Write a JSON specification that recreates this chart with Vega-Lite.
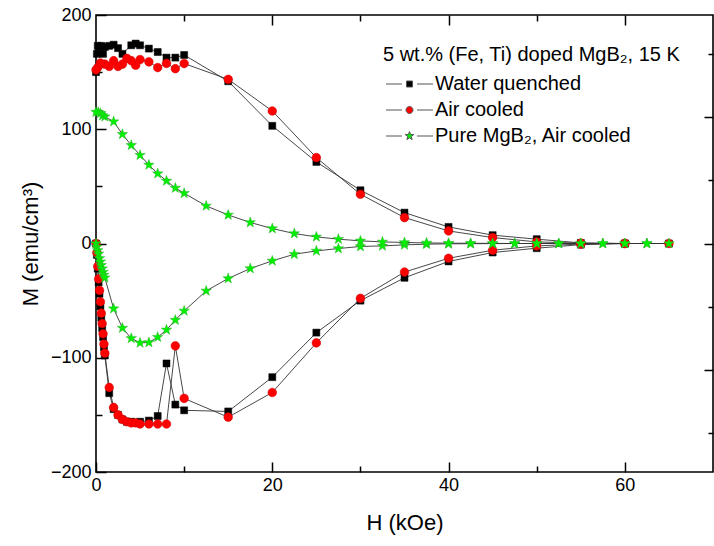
{
  "$schema": "https://vega.github.io/schema/vega-lite/v6.json",
  "width": 617,
  "height": 457,
  "autosize": "none",
  "padding": {"left": 96, "top": 15, "right": 1, "bottom": 74},
  "config": {
    "view": {"stroke": "black", "strokeWidth": 1.6},
    "font": "Liberation Sans",
    "axis": {
      "domain": false, "grid": false, "tickColor": "black", "tickWidth": 1.5,
      "labelFont": "Liberation Sans", "labelFontSize": 18, "labelColor": "black",
      "titleFont": "Liberation Sans", "titleFontSize": 22, "titleFontWeight": "normal", "titleColor": "black",
      "labelFlush": false, "labelOverlap": false
    }
  },
  "datasets": {
    "mh": [
      {"series": "Water quenched", "seq": 1, "H": 0, "M": 0},
      {"series": "Water quenched", "seq": 2, "H": 0.1, "M": -10},
      {"series": "Water quenched", "seq": 3, "H": 0.2, "M": -22},
      {"series": "Water quenched", "seq": 4, "H": 0.3, "M": -34},
      {"series": "Water quenched", "seq": 5, "H": 0.4, "M": -44},
      {"series": "Water quenched", "seq": 6, "H": 0.5, "M": -55},
      {"series": "Water quenched", "seq": 7, "H": 0.6, "M": -65},
      {"series": "Water quenched", "seq": 8, "H": 0.7, "M": -74},
      {"series": "Water quenched", "seq": 9, "H": 0.8, "M": -82},
      {"series": "Water quenched", "seq": 10, "H": 0.9, "M": -91},
      {"series": "Water quenched", "seq": 11, "H": 1.0, "M": -98},
      {"series": "Water quenched", "seq": 12, "H": 1.5, "M": -131},
      {"series": "Water quenched", "seq": 13, "H": 2, "M": -145},
      {"series": "Water quenched", "seq": 14, "H": 2.5, "M": -150},
      {"series": "Water quenched", "seq": 15, "H": 3, "M": -154},
      {"series": "Water quenched", "seq": 16, "H": 3.5, "M": -156},
      {"series": "Water quenched", "seq": 17, "H": 4, "M": -156},
      {"series": "Water quenched", "seq": 18, "H": 4.5, "M": -157},
      {"series": "Water quenched", "seq": 19, "H": 5, "M": -156},
      {"series": "Water quenched", "seq": 20, "H": 6, "M": -155},
      {"series": "Water quenched", "seq": 21, "H": 7, "M": -151},
      {"series": "Water quenched", "seq": 22, "H": 8, "M": -105},
      {"series": "Water quenched", "seq": 23, "H": 9, "M": -141},
      {"series": "Water quenched", "seq": 24, "H": 10, "M": -146},
      {"series": "Water quenched", "seq": 25, "H": 15, "M": -147},
      {"series": "Water quenched", "seq": 26, "H": 20, "M": -117},
      {"series": "Water quenched", "seq": 27, "H": 25, "M": -78},
      {"series": "Water quenched", "seq": 28, "H": 30, "M": -50},
      {"series": "Water quenched", "seq": 29, "H": 35, "M": -30},
      {"series": "Water quenched", "seq": 30, "H": 40, "M": -15.7},
      {"series": "Water quenched", "seq": 31, "H": 45, "M": -7.9},
      {"series": "Water quenched", "seq": 32, "H": 50, "M": -4.1},
      {"series": "Water quenched", "seq": 33, "H": 55, "M": -1},
      {"series": "Water quenched", "seq": 34, "H": 60, "M": 0},
      {"series": "Water quenched", "seq": 35, "H": 65, "M": 0},
      {"series": "Water quenched", "seq": 36, "H": 60, "M": 0},
      {"series": "Water quenched", "seq": 37, "H": 55, "M": 0.5},
      {"series": "Water quenched", "seq": 38, "H": 50, "M": 3.8},
      {"series": "Water quenched", "seq": 39, "H": 45, "M": 7.3},
      {"series": "Water quenched", "seq": 40, "H": 40, "M": 14.5},
      {"series": "Water quenched", "seq": 41, "H": 35, "M": 27},
      {"series": "Water quenched", "seq": 42, "H": 30, "M": 46.6},
      {"series": "Water quenched", "seq": 43, "H": 25, "M": 71.4},
      {"series": "Water quenched", "seq": 44, "H": 20, "M": 103},
      {"series": "Water quenched", "seq": 45, "H": 15, "M": 142},
      {"series": "Water quenched", "seq": 46, "H": 10, "M": 165},
      {"series": "Water quenched", "seq": 47, "H": 9, "M": 162.7},
      {"series": "Water quenched", "seq": 48, "H": 8, "M": 162.7},
      {"series": "Water quenched", "seq": 49, "H": 7, "M": 167.6},
      {"series": "Water quenched", "seq": 50, "H": 6, "M": 170.6},
      {"series": "Water quenched", "seq": 51, "H": 5, "M": 173.5},
      {"series": "Water quenched", "seq": 52, "H": 4.5, "M": 175},
      {"series": "Water quenched", "seq": 53, "H": 4, "M": 173.5},
      {"series": "Water quenched", "seq": 54, "H": 3, "M": 166},
      {"series": "Water quenched", "seq": 55, "H": 2.5, "M": 171},
      {"series": "Water quenched", "seq": 56, "H": 2, "M": 174},
      {"series": "Water quenched", "seq": 57, "H": 1.5, "M": 173},
      {"series": "Water quenched", "seq": 58, "H": 1, "M": 172},
      {"series": "Water quenched", "seq": 59, "H": 0.8, "M": 166},
      {"series": "Water quenched", "seq": 60, "H": 0.6, "M": 173},
      {"series": "Water quenched", "seq": 61, "H": 0.4, "M": 172},
      {"series": "Water quenched", "seq": 62, "H": 0.2, "M": 173},
      {"series": "Water quenched", "seq": 63, "H": 0.1, "M": 166},
      {"series": "Water quenched", "seq": 64, "H": 0, "M": 150},

      {"series": "Air cooled", "seq": 1, "H": 0, "M": 0},
      {"series": "Air cooled", "seq": 2, "H": 0.1, "M": -8},
      {"series": "Air cooled", "seq": 3, "H": 0.2, "M": -20},
      {"series": "Air cooled", "seq": 4, "H": 0.3, "M": -31},
      {"series": "Air cooled", "seq": 5, "H": 0.4, "M": -41},
      {"series": "Air cooled", "seq": 6, "H": 0.5, "M": -51},
      {"series": "Air cooled", "seq": 7, "H": 0.6, "M": -61},
      {"series": "Air cooled", "seq": 8, "H": 0.7, "M": -70},
      {"series": "Air cooled", "seq": 9, "H": 0.8, "M": -79},
      {"series": "Air cooled", "seq": 10, "H": 0.9, "M": -88},
      {"series": "Air cooled", "seq": 11, "H": 1.0, "M": -96},
      {"series": "Air cooled", "seq": 12, "H": 1.5, "M": -126},
      {"series": "Air cooled", "seq": 13, "H": 2, "M": -143.5},
      {"series": "Air cooled", "seq": 14, "H": 2.5, "M": -150},
      {"series": "Air cooled", "seq": 15, "H": 3, "M": -154},
      {"series": "Air cooled", "seq": 16, "H": 3.5, "M": -156},
      {"series": "Air cooled", "seq": 17, "H": 4, "M": -157},
      {"series": "Air cooled", "seq": 18, "H": 4.5, "M": -157},
      {"series": "Air cooled", "seq": 19, "H": 5, "M": -158},
      {"series": "Air cooled", "seq": 20, "H": 6, "M": -158},
      {"series": "Air cooled", "seq": 21, "H": 7, "M": -158},
      {"series": "Air cooled", "seq": 22, "H": 8, "M": -158},
      {"series": "Air cooled", "seq": 23, "H": 9, "M": -89.6},
      {"series": "Air cooled", "seq": 24, "H": 10, "M": -135.6},
      {"series": "Air cooled", "seq": 25, "H": 15, "M": -152},
      {"series": "Air cooled", "seq": 26, "H": 20, "M": -130.4},
      {"series": "Air cooled", "seq": 27, "H": 25, "M": -87},
      {"series": "Air cooled", "seq": 28, "H": 30, "M": -48},
      {"series": "Air cooled", "seq": 29, "H": 35, "M": -25},
      {"series": "Air cooled", "seq": 30, "H": 40, "M": -12.9},
      {"series": "Air cooled", "seq": 31, "H": 45, "M": -5.9},
      {"series": "Air cooled", "seq": 32, "H": 50, "M": -2.1},
      {"series": "Air cooled", "seq": 33, "H": 55, "M": -0.5},
      {"series": "Air cooled", "seq": 34, "H": 60, "M": 0},
      {"series": "Air cooled", "seq": 35, "H": 65, "M": 0},
      {"series": "Air cooled", "seq": 36, "H": 60, "M": 0},
      {"series": "Air cooled", "seq": 37, "H": 55, "M": 0.3},
      {"series": "Air cooled", "seq": 38, "H": 50, "M": 1.4},
      {"series": "Air cooled", "seq": 39, "H": 45, "M": 5.2},
      {"series": "Air cooled", "seq": 40, "H": 40, "M": 11},
      {"series": "Air cooled", "seq": 41, "H": 35, "M": 22.7},
      {"series": "Air cooled", "seq": 42, "H": 30, "M": 43.1},
      {"series": "Air cooled", "seq": 43, "H": 25, "M": 75.2},
      {"series": "Air cooled", "seq": 44, "H": 20, "M": 116},
      {"series": "Air cooled", "seq": 45, "H": 15, "M": 143.7},
      {"series": "Air cooled", "seq": 46, "H": 10, "M": 157.5},
      {"series": "Air cooled", "seq": 47, "H": 9, "M": 153},
      {"series": "Air cooled", "seq": 48, "H": 8, "M": 157.7},
      {"series": "Air cooled", "seq": 49, "H": 7, "M": 154},
      {"series": "Air cooled", "seq": 50, "H": 6, "M": 159},
      {"series": "Air cooled", "seq": 51, "H": 5, "M": 161},
      {"series": "Air cooled", "seq": 52, "H": 4.5, "M": 156},
      {"series": "Air cooled", "seq": 53, "H": 4, "M": 160},
      {"series": "Air cooled", "seq": 54, "H": 3.5, "M": 162},
      {"series": "Air cooled", "seq": 55, "H": 3, "M": 157},
      {"series": "Air cooled", "seq": 56, "H": 2.5, "M": 155},
      {"series": "Air cooled", "seq": 57, "H": 2, "M": 160},
      {"series": "Air cooled", "seq": 58, "H": 1.5, "M": 155},
      {"series": "Air cooled", "seq": 59, "H": 1, "M": 157},
      {"series": "Air cooled", "seq": 60, "H": 0.5, "M": 158},
      {"series": "Air cooled", "seq": 61, "H": 0.2, "M": 154},
      {"series": "Air cooled", "seq": 62, "H": 0, "M": 152},

      {"series": "Pure MgB₂, Air cooled", "seq": 1, "H": 0, "M": 0},
      {"series": "Pure MgB₂, Air cooled", "seq": 2, "H": 0.1, "M": -3},
      {"series": "Pure MgB₂, Air cooled", "seq": 3, "H": 0.2, "M": -6},
      {"series": "Pure MgB₂, Air cooled", "seq": 4, "H": 0.3, "M": -9},
      {"series": "Pure MgB₂, Air cooled", "seq": 5, "H": 0.4, "M": -13},
      {"series": "Pure MgB₂, Air cooled", "seq": 6, "H": 0.5, "M": -16},
      {"series": "Pure MgB₂, Air cooled", "seq": 7, "H": 0.6, "M": -19},
      {"series": "Pure MgB₂, Air cooled", "seq": 8, "H": 0.7, "M": -22},
      {"series": "Pure MgB₂, Air cooled", "seq": 9, "H": 0.8, "M": -25},
      {"series": "Pure MgB₂, Air cooled", "seq": 10, "H": 0.9, "M": -27.5},
      {"series": "Pure MgB₂, Air cooled", "seq": 11, "H": 1.0, "M": -30},
      {"series": "Pure MgB₂, Air cooled", "seq": 12, "H": 2, "M": -57},
      {"series": "Pure MgB₂, Air cooled", "seq": 13, "H": 3, "M": -74},
      {"series": "Pure MgB₂, Air cooled", "seq": 14, "H": 4, "M": -83},
      {"series": "Pure MgB₂, Air cooled", "seq": 15, "H": 5, "M": -87},
      {"series": "Pure MgB₂, Air cooled", "seq": 16, "H": 6, "M": -86.6},
      {"series": "Pure MgB₂, Air cooled", "seq": 17, "H": 7, "M": -82},
      {"series": "Pure MgB₂, Air cooled", "seq": 18, "H": 8, "M": -75.6},
      {"series": "Pure MgB₂, Air cooled", "seq": 19, "H": 9, "M": -67},
      {"series": "Pure MgB₂, Air cooled", "seq": 20, "H": 10, "M": -59},
      {"series": "Pure MgB₂, Air cooled", "seq": 21, "H": 12.5, "M": -41.5},
      {"series": "Pure MgB₂, Air cooled", "seq": 22, "H": 15, "M": -30.6},
      {"series": "Pure MgB₂, Air cooled", "seq": 23, "H": 17.5, "M": -21.9},
      {"series": "Pure MgB₂, Air cooled", "seq": 24, "H": 20, "M": -15.2},
      {"series": "Pure MgB₂, Air cooled", "seq": 25, "H": 22.5, "M": -9.4},
      {"series": "Pure MgB₂, Air cooled", "seq": 26, "H": 25, "M": -6.5},
      {"series": "Pure MgB₂, Air cooled", "seq": 27, "H": 27.5, "M": -4.4},
      {"series": "Pure MgB₂, Air cooled", "seq": 28, "H": 30, "M": -2.6},
      {"series": "Pure MgB₂, Air cooled", "seq": 29, "H": 32.5, "M": -2.1},
      {"series": "Pure MgB₂, Air cooled", "seq": 30, "H": 35, "M": -1.2},
      {"series": "Pure MgB₂, Air cooled", "seq": 31, "H": 37.5, "M": -0.6},
      {"series": "Pure MgB₂, Air cooled", "seq": 32, "H": 40, "M": -0.3},
      {"series": "Pure MgB₂, Air cooled", "seq": 33, "H": 42.5, "M": -0.2},
      {"series": "Pure MgB₂, Air cooled", "seq": 34, "H": 45, "M": -0.1},
      {"series": "Pure MgB₂, Air cooled", "seq": 35, "H": 47.5, "M": 0},
      {"series": "Pure MgB₂, Air cooled", "seq": 36, "H": 50, "M": 0},
      {"series": "Pure MgB₂, Air cooled", "seq": 37, "H": 52.5, "M": 0},
      {"series": "Pure MgB₂, Air cooled", "seq": 38, "H": 55, "M": 0},
      {"series": "Pure MgB₂, Air cooled", "seq": 39, "H": 57.5, "M": 0},
      {"series": "Pure MgB₂, Air cooled", "seq": 40, "H": 60, "M": 0},
      {"series": "Pure MgB₂, Air cooled", "seq": 41, "H": 62.5, "M": 0},
      {"series": "Pure MgB₂, Air cooled", "seq": 42, "H": 65, "M": 0},
      {"series": "Pure MgB₂, Air cooled", "seq": 43, "H": 62.5, "M": 0},
      {"series": "Pure MgB₂, Air cooled", "seq": 44, "H": 60, "M": 0},
      {"series": "Pure MgB₂, Air cooled", "seq": 45, "H": 57.5, "M": 0},
      {"series": "Pure MgB₂, Air cooled", "seq": 46, "H": 55, "M": 0},
      {"series": "Pure MgB₂, Air cooled", "seq": 47, "H": 52.5, "M": 0},
      {"series": "Pure MgB₂, Air cooled", "seq": 48, "H": 50, "M": 0},
      {"series": "Pure MgB₂, Air cooled", "seq": 49, "H": 47.5, "M": 0},
      {"series": "Pure MgB₂, Air cooled", "seq": 50, "H": 45, "M": 0.1},
      {"series": "Pure MgB₂, Air cooled", "seq": 51, "H": 42.5, "M": 0.2},
      {"series": "Pure MgB₂, Air cooled", "seq": 52, "H": 40, "M": 0.3},
      {"series": "Pure MgB₂, Air cooled", "seq": 53, "H": 37.5, "M": 0.5},
      {"series": "Pure MgB₂, Air cooled", "seq": 54, "H": 35, "M": 0.9},
      {"series": "Pure MgB₂, Air cooled", "seq": 55, "H": 32.5, "M": 1.4},
      {"series": "Pure MgB₂, Air cooled", "seq": 56, "H": 30, "M": 2.3},
      {"series": "Pure MgB₂, Air cooled", "seq": 57, "H": 27.5, "M": 3.8},
      {"series": "Pure MgB₂, Air cooled", "seq": 58, "H": 25, "M": 5.8},
      {"series": "Pure MgB₂, Air cooled", "seq": 59, "H": 22.5, "M": 8.7},
      {"series": "Pure MgB₂, Air cooled", "seq": 60, "H": 20, "M": 13.1},
      {"series": "Pure MgB₂, Air cooled", "seq": 61, "H": 17.5, "M": 18.4},
      {"series": "Pure MgB₂, Air cooled", "seq": 62, "H": 15, "M": 25},
      {"series": "Pure MgB₂, Air cooled", "seq": 63, "H": 12.5, "M": 32.9},
      {"series": "Pure MgB₂, Air cooled", "seq": 64, "H": 10, "M": 44},
      {"series": "Pure MgB₂, Air cooled", "seq": 65, "H": 9, "M": 48.6},
      {"series": "Pure MgB₂, Air cooled", "seq": 66, "H": 8, "M": 54.8},
      {"series": "Pure MgB₂, Air cooled", "seq": 67, "H": 7, "M": 61.2},
      {"series": "Pure MgB₂, Air cooled", "seq": 68, "H": 6, "M": 68.8},
      {"series": "Pure MgB₂, Air cooled", "seq": 69, "H": 5, "M": 77.3},
      {"series": "Pure MgB₂, Air cooled", "seq": 70, "H": 4, "M": 86},
      {"series": "Pure MgB₂, Air cooled", "seq": 71, "H": 3, "M": 95.6},
      {"series": "Pure MgB₂, Air cooled", "seq": 72, "H": 2, "M": 106.7},
      {"series": "Pure MgB₂, Air cooled", "seq": 73, "H": 1, "M": 111},
      {"series": "Pure MgB₂, Air cooled", "seq": 74, "H": 0.75, "M": 112},
      {"series": "Pure MgB₂, Air cooled", "seq": 75, "H": 0.5, "M": 114},
      {"series": "Pure MgB₂, Air cooled", "seq": 76, "H": 0.25, "M": 115},
      {"series": "Pure MgB₂, Air cooled", "seq": 77, "H": 0, "M": 115}
    ]
  },
  "layer": [
    {
      "data": {"name": "mh"},
      "encoding": {
        "x": {
          "field": "H", "type": "quantitative",
          "scale": {"domain": [0, 70], "nice": false, "zero": false},
          "axis": {
            "orient": "top", "title": null, "labels": false,
            "values": [10, 20, 30, 40, 50, 60],
            "tickSize": {"condition": {"test": "datum.value % 20 === 0", "value": -10}, "value": -6}
          }
        },
        "y": {
          "field": "M", "type": "quantitative",
          "scale": {"domain": [-200, 200], "nice": false, "zero": false},
          "axis": {
            "orient": "left", "title": "M (emu/cm³)",
            "values": [-200, -150, -100, -50, 0, 50, 100, 150, 200],
            "labelExpr": "datum.value % 100 === 0 ? datum.label : ''",
            "tickSize": {"condition": {"test": "datum.value % 100 === 0", "value": -10}, "value": -6},
            "labelPadding": 15, "titlePadding": 8
          }
        }
      },
      "layer": [
        {
          "mark": {"type": "line", "stroke": "#333333", "strokeWidth": 0.9},
          "encoding": {"detail": {"field": "series"}, "order": {"field": "seq", "type": "quantitative"}}
        },
        {
          "transform": [{"filter": "datum.series === 'Water quenched'"}],
          "mark": {"type": "point", "shape": "square", "filled": true, "fill": "#000000", "stroke": "#000000", "strokeWidth": 0.5, "size": 49, "opacity": 1}
        },
        {
          "transform": [{"filter": "datum.series === 'Air cooled'"}],
          "mark": {"type": "point", "shape": "circle", "filled": true, "fill": "#ff0000", "stroke": "#cc0000", "strokeWidth": 0.5, "size": 75, "opacity": 1}
        },
        {
          "transform": [{"filter": "datum.series === 'Pure MgB₂, Air cooled'"}],
          "mark": {"type": "point", "shape": "M0,-1L0.235,-0.324L0.951,-0.309L0.380,0.124L0.588,0.809L0,0.4L-0.588,0.809L-0.380,0.124L-0.951,-0.309L-0.235,-0.324Z", "filled": true, "fill": "#00f000", "stroke": "#30b030", "strokeWidth": 0.5, "size": 120, "opacity": 1}
        },
        {
          "mark": {"type": "point", "filled": true, "opacity": 0},
          "encoding": {
            "color": {
              "field": "series", "type": "nominal",
              "scale": {"domain": ["Water quenched", "Air cooled", "Pure MgB₂, Air cooled"], "range": ["#000000", "#ff0000", "#00f000"]},
              "legend": {
                "orient": "none", "legendX": 287, "legendY": 30, "padding": 0,
                "title": "5 wt.% (Fe, Ti) doped MgB₂, 15 K",
                "titleFont": "Liberation Sans", "titleFontSize": 20, "titleFontWeight": "normal", "titleColor": "black", "titlePadding": 9, "titleLimit": 500,
                "labelFont": "Liberation Sans", "labelFontSize": 20, "labelColor": "black", "labelLimit": 500,
                "symbolSize": 196, "labelOffset": 32, "rowPadding": 6, "symbolOpacity": 1,
                "encode": {
                  "symbols": {
                    "update": {
                      "shape": {"signal": "datum.value === 'Water quenched' ? 'M-1,0H1.286M3.43,0H5.71M1.93,-0.43h0.86v0.86h-0.86Z' : datum.value === 'Air cooled' ? 'M-1,0H1.286M3.43,0H5.71M2.857,0A0.5,0.5 0 1,1 1.857,0A0.5,0.5 0 1,1 2.857,0Z' : 'M-1,0H1.286M3.43,0H5.71M2.357,-0.64L2.510,-0.210L2.966,-0.198L2.604,0.080L2.733,0.518L2.357,0.26L1.981,0.518L2.110,0.080L1.748,-0.198L2.204,-0.210Z'"},
                      "stroke": {"value": "#555555"},
                      "strokeWidth": {"value": 1},
                      "opacity": {"value": 1}
                    }
                  }
                }
              }
            }
          }
        }
      ]
    },
    {
      "data": {"name": "mh"},
      "mark": {"type": "point", "opacity": 0},
      "encoding": {
        "x": {
          "field": "H", "type": "quantitative",
          "scale": {"domain": [0, 70], "nice": false, "zero": false},
          "axis": {
            "orient": "bottom", "title": "H (kOe)",
            "values": [0, 10, 20, 30, 40, 50, 60],
            "labelExpr": "datum.value % 20 === 0 ? datum.label : ''",
            "tickSize": {"condition": {"test": "datum.value % 20 === 0", "value": -10}, "value": -6},
            "labelPadding": 14, "titlePadding": 14
          }
        },
        "y": {
          "field": "M", "type": "quantitative",
          "scale": {"domain": [-181, 181], "nice": false, "zero": false},
          "axis": {
            "orient": "right", "title": null, "labels": false,
            "values": [-150, -100, -50, 0, 50, 100, 150],
            "tickSize": {"condition": {"test": "datum.value % 100 === 0", "value": -9}, "value": -5}
          }
        }
      }
    }
  ],
  "resolve": {"scale": {"x": "independent", "y": "independent"}}
}
